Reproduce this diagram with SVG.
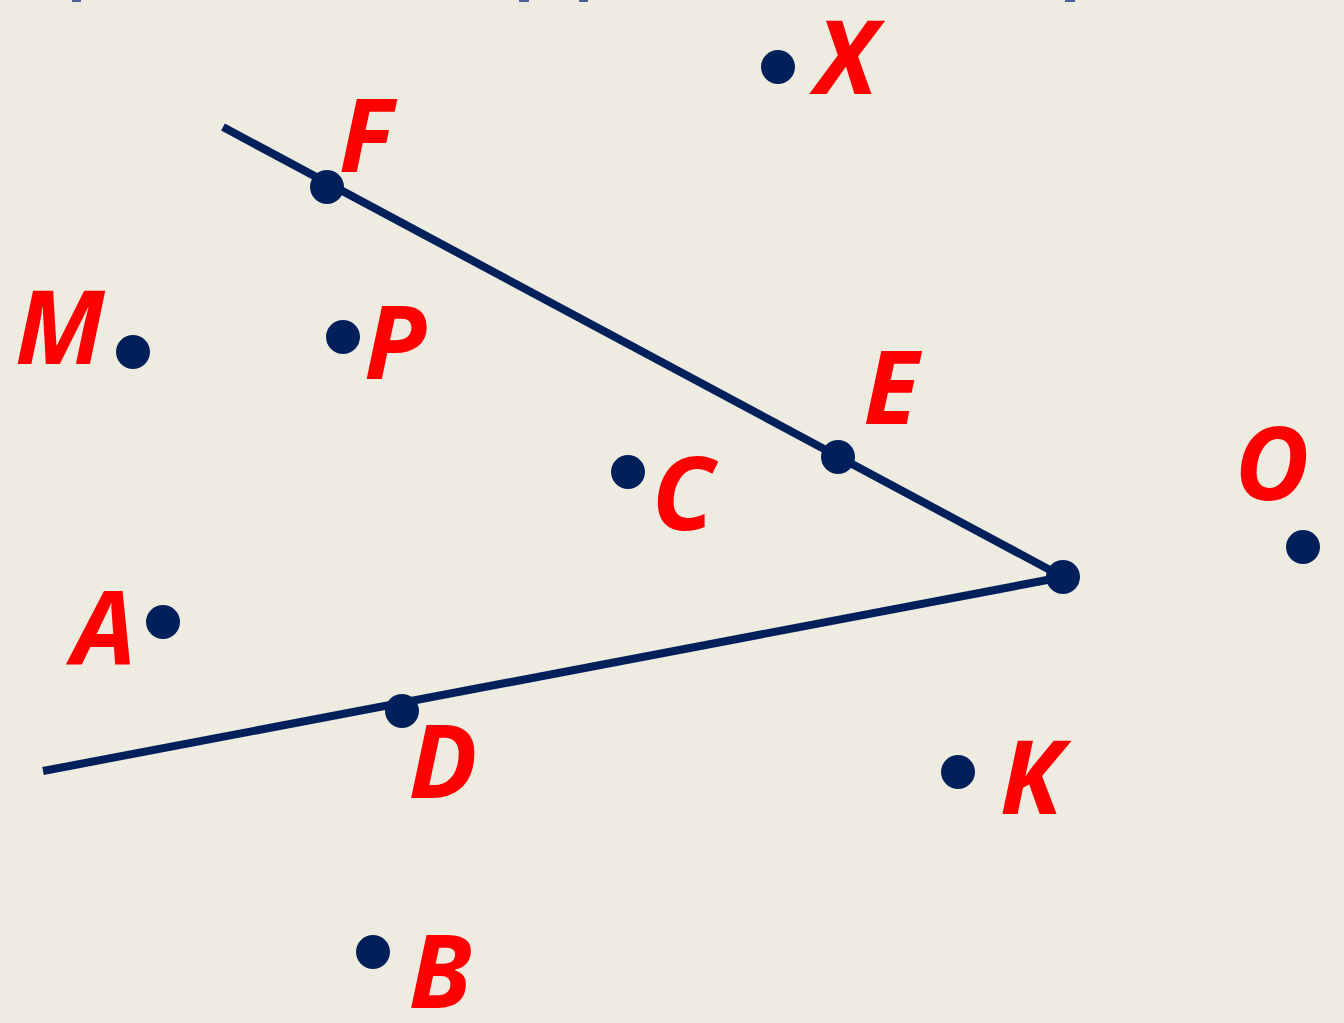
<svg xmlns="http://www.w3.org/2000/svg" width="1344" height="1023" viewBox="0 0 1344 1023">
<style>
.lbl{font-family:"Noto Sans","DejaVu Sans",sans-serif;font-weight:bold;font-style:italic;font-size:102px;fill:#ff0000;text-anchor:middle}
.pt{fill:#00205b}
.ln{stroke:#00205b;stroke-width:8;fill:none}
.tick{fill:#4a6096}
</style>
<rect width="1344" height="1023" fill="#eeebe0"/>
<g id="ticks">
<rect class="tick" x="72" y="0" width="9" height="2"/>
<rect class="tick" x="519" y="0" width="10" height="2"/>
<rect class="tick" x="579" y="0" width="9" height="2"/>
<rect class="tick" x="1065" y="0" width="10" height="2"/>
</g>
<g id="connectors">
<line class="ln" x1="223" y1="127" x2="1063" y2="577"/>
<line class="ln" x1="1063" y1="577" x2="43" y2="771"/>
</g>
<g id="node-X"><circle class="pt" cx="778" cy="67" r="17"/><text class="lbl" x="846" y="94">X</text></g>
<g id="node-F"><circle class="pt" cx="327" cy="187" r="17"/><text class="lbl" x="366" y="172">F</text></g>
<g id="node-M"><circle class="pt" cx="133" cy="352" r="17"/><text class="lbl" x="60" y="364">M</text></g>
<g id="node-P"><circle class="pt" cx="343" cy="337" r="17"/><text class="lbl" x="395" y="379">P</text></g>
<g id="node-E"><circle class="pt" cx="838" cy="457" r="17"/><text class="lbl" x="891" y="424">E</text></g>
<g id="node-C"><circle class="pt" cx="628" cy="472" r="17"/><text class="lbl" x="683" y="530">C</text></g>
<g id="node-O"><circle class="pt" cx="1303" cy="547" r="17"/><text class="lbl" x="1272" y="500">O</text></g>
<g id="node-vertex"><circle class="pt" cx="1063" cy="577" r="17"/></g>
<g id="node-A"><circle class="pt" cx="163" cy="622" r="17"/><text class="lbl" x="104" y="664">A</text></g>
<g id="node-D"><circle class="pt" cx="402" cy="711" r="17"/><text class="lbl" x="443" y="798">D</text></g>
<g id="node-K"><circle class="pt" cx="958" cy="772" r="17"/><text class="lbl" x="1031" y="814">K</text></g>
<g id="node-B"><circle class="pt" cx="373" cy="952" r="17"/><text class="lbl" x="440" y="1008">B</text></g>
</svg>
